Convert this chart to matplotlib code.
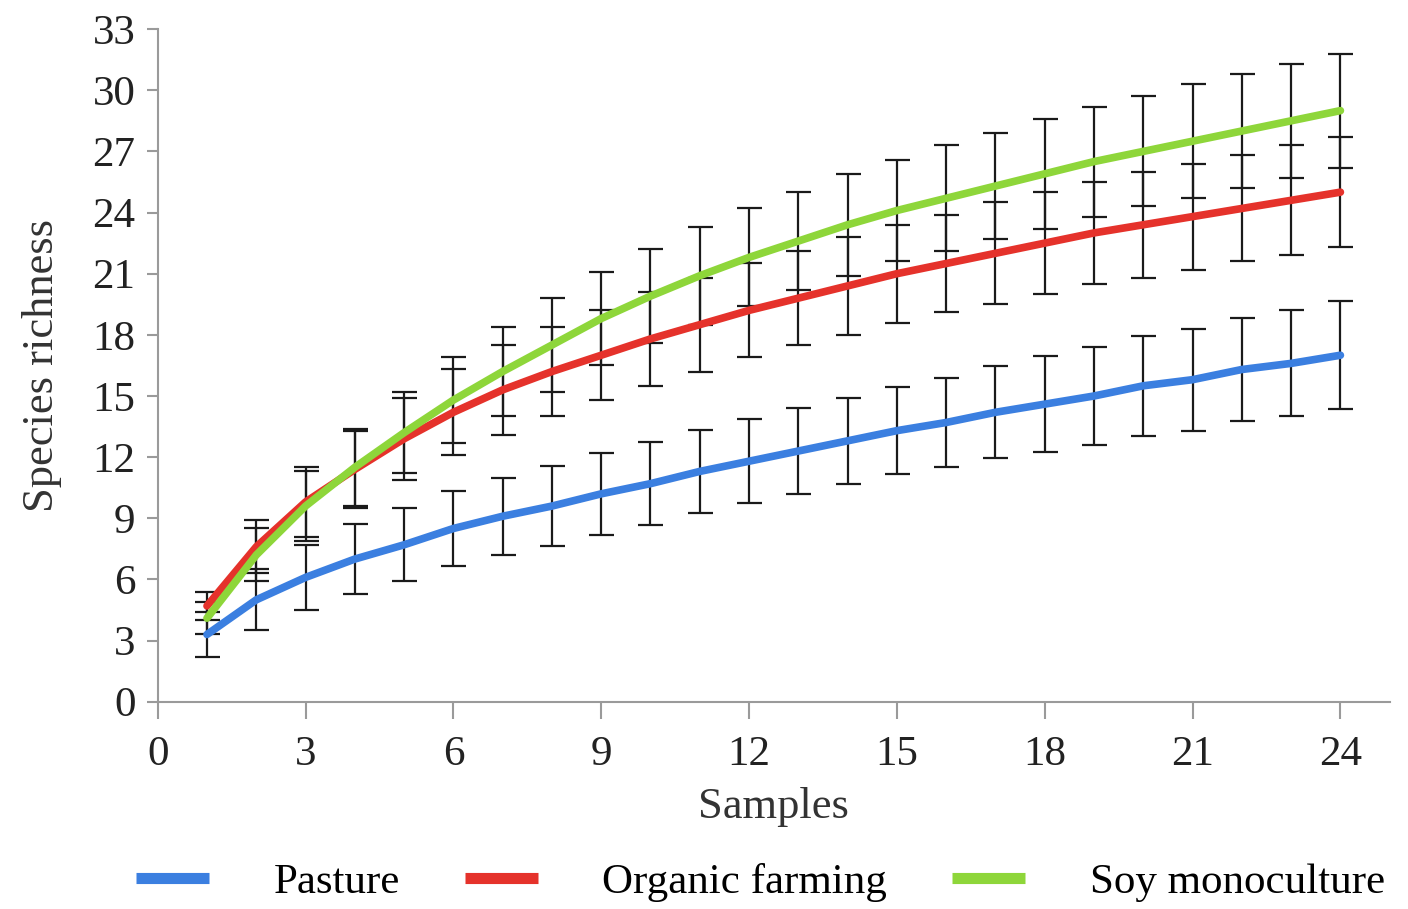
import numpy as np
import matplotlib
matplotlib.use("Agg")
import matplotlib.pyplot as plt

samples = list(range(1, 25))

pasture = [3.3, 5.0, 6.1, 7.0, 7.7, 8.5, 9.1, 9.6, 10.2, 10.7, 11.3, 11.8,
           12.3, 12.8, 13.3, 13.7, 14.2, 14.6, 15.0, 15.5, 15.8, 16.3, 16.6, 17.0]
pasture_err = [1.1, 1.5, 1.6, 1.7, 1.8, 1.85, 1.9, 1.95, 2.0, 2.05, 2.05, 2.05,
               2.1, 2.1, 2.15, 2.2, 2.25, 2.35, 2.4, 2.45, 2.5, 2.55, 2.6, 2.65]

organic = [4.7, 7.6, 9.8, 11.4, 12.9, 14.2, 15.3, 16.2, 17.0, 17.8, 18.5, 19.2,
           19.8, 20.4, 21.0, 21.5, 22.0, 22.5, 23.0, 23.4, 23.8, 24.2, 24.6, 25.0]
organic_err = [0.7, 1.3, 1.7, 1.9, 2.0, 2.1, 2.2, 2.2, 2.2, 2.3, 2.3, 2.3,
               2.3, 2.4, 2.4, 2.4, 2.5, 2.5, 2.5, 2.6, 2.6, 2.6, 2.7, 2.7]

soy = [4.1, 7.2, 9.6, 11.5, 13.2, 14.8, 16.2, 17.5, 18.8, 19.9, 20.9, 21.8,
       22.6, 23.4, 24.1, 24.7, 25.3, 25.9, 26.5, 27.0, 27.5, 28.0, 28.5, 29.0]
soy_err = [0.8, 1.3, 1.7, 1.9, 2.0, 2.1, 2.2, 2.3, 2.3, 2.3, 2.4, 2.4,
           2.4, 2.5, 2.5, 2.6, 2.6, 2.7, 2.7, 2.7, 2.8, 2.8, 2.8, 2.8]

labels = ['Pasture', 'Organic farming', 'Soy monoculture']
colors = ['#3b7fe0', '#e5322b', '#8ed63a']

plt.rcParams['font.family'] = ['Liberation Serif', 'DejaVu Serif']

fig = plt.figure(figsize=(14.08, 9.09), dpi=100)
ax = fig.add_axes([0.112, 0.228, 0.875, 0.74])

series = [(pasture, pasture_err), (organic, organic_err), (soy, soy_err)]
for (vals, err), lab, col in zip(series, labels, colors):
    ax.errorbar(samples, vals, yerr=err, fmt='none', ecolor='#1a1a1a',
                elinewidth=1.6, capsize=9, capthick=1.6, zorder=2)
    ax.plot(samples, vals, color=col, lw=5.5, label=lab, zorder=3,
            solid_capstyle='round')

ax.set_xlim(0, 25)
ax.set_ylim(0, 33)
ax.set_xticks(range(0, 25, 3))
ax.set_yticks(range(0, 34, 3))
for s in ['top', 'right']:
    ax.spines[s].set_visible(False)
for s in ['left', 'bottom']:
    ax.spines[s].set_color('#9a9a9a')
    ax.spines[s].set_linewidth(1.5)
ax.tick_params(axis='x', direction='out', length=12, width=1.5, color='#9a9a9a',
               labelsize=31, pad=12, labelcolor='#222222')
ax.tick_params(axis='y', direction='out', length=8, width=1.5, color='#9a9a9a',
               labelsize=31, pad=8, labelcolor='#222222')
ax.set_xlabel('Samples', fontsize=32, color='#333333', labelpad=10)
ax.set_ylabel('Species richness', fontsize=32, color='#333333', labelpad=22)

leg = fig.legend(loc='lower center', bbox_to_anchor=(0.54, -0.035), ncol=3,
                 frameon=False, fontsize=31, handlelength=1.7, handletextpad=1.5,
                 columnspacing=1.5)
for h in leg.legend_handles:
    h.set_solid_capstyle('butt')
    h.set_linewidth(8)

fig.savefig('out.png', dpi=100)
